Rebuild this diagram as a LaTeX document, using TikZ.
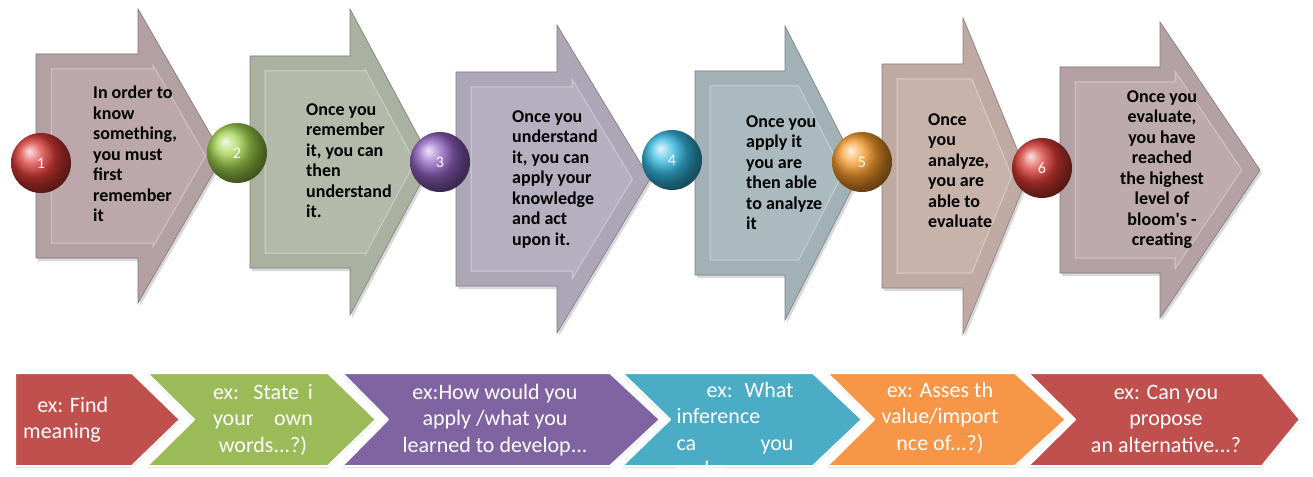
\documentclass[tikz,border=0pt]{standalone}
\usepackage{fontspec}
\newfontfamily\calibri{Carlito}
\usetikzlibrary{shadows}
\definecolor{stageA}{HTML}{BCA8AB}
\definecolor{stageB}{HTML}{B3BAA9}
\definecolor{stageC}{HTML}{B6AFBF}
\definecolor{stageD}{HTML}{AABABF}
\definecolor{stageE}{HTML}{C8B3AB}
\definecolor{stageF}{HTML}{BDAAAE}
\definecolor{exred}{HTML}{C0504D}
\definecolor{exgreen}{HTML}{9BBB59}
\definecolor{expurple}{HTML}{8064A2}
\definecolor{exblue}{HTML}{4BACC6}
\definecolor{exorange}{HTML}{F79646}
\definecolor{ballred}{HTML}{D83A34}
\definecolor{ballgreen}{HTML}{9ED04A}
\definecolor{ballpurple}{HTML}{9060C0}
\definecolor{ballblue}{HTML}{34B8E0}
\definecolor{ballorange}{HTML}{F79A2A}
\newcommand{\stageoutline}[6]{(#1,#2-#3) -- (#4,#2-#3) -- (#4,#2-#5) -- (#6,#2) -- (#4,#2+#5) -- (#4,#2+#3) -- (#1,#2+#3) -- cycle}
% left, centre, half body, head start, half head, tip, colour
\newcommand{\stagearrow}[7]{%
  \path[fill=#7, drop shadow={opacity=0.3, shadow xshift=2pt, shadow yshift=-3pt}] \stageoutline{#1}{#2}{#3}{#4}{#5}{#6};
  \begin{scope}
    \clip \stageoutline{#1}{#2}{#3}{#4}{#5}{#6};
    \draw[line width=31pt, white, opacity=0.35] \stageoutline{#1}{#2}{#3}{#4}{#5}{#6};
    \draw[line width=29pt, #7!95!black] \stageoutline{#1}{#2}{#3}{#4}{#5}{#6};
  \end{scope}
  \draw[#7!70!black, line width=0.6pt] \stageoutline{#1}{#2}{#3}{#4}{#5}{#6};
}
\tikzset{
  stagetext/.style={font=\calibri\bfseries\fontsize{18}{20.5}\selectfont, align=left, anchor=north west, inner sep=0pt},
  extext/.style={font=\calibri\fontsize{22}{26.5}\selectfont, align=center, anchor=north, inner sep=0pt, text=white},
  bullet/.style={circle, shading=ball, minimum size=60pt, inner sep=0pt, text=white, font=\calibri\fontsize{16}{16}\selectfont},
  exband/.style={draw=white, line width=2pt, line join=round, drop shadow={opacity=0.25, shadow xshift=0pt, shadow yshift=-2pt}},
}

\begin{document}
\begin{tikzpicture}[x=1pt, y=-1pt]
  \useasboundingbox (0,0) rectangle (1313,476);
  % stages
  \stagearrow{36}{156}{102}{138}{147}{223}{stageA}
  \stagearrow{250}{162}{106}{350}{153}{432}{stageB}
  \stagearrow{456}{179}{107}{557}{154}{650}{stageC}
  \stagearrow{695}{173}{102}{785}{147}{860}{stageD}
  \stagearrow{882}{176}{112}{963}{158}{1028}{stageE}
  \stagearrow{1060}{170}{103}{1160}{148}{1260}{stageF}

  \node[stagetext] (s1) at (93,86) {In order to\\know\\something,\\you must\\first\\remember\\it};
  \node[stagetext] (s2) at (306,103) {Once you\\remember\\it, you can\\then\\understand\\it.};
  \node[stagetext] (s3) at (512,110) {Once you\\understand\\it, you can\\apply your\\knowledge\\and act\\upon it.};
  \node[stagetext] (s4) at (746,115) {Once you\\apply it\\you are\\then able\\to analyze\\it};
  \node[stagetext] (s5) at (928,113) {Once\\you\\analyze,\\you are\\able to\\evaluate};
  \node[stagetext, align=center, anchor=north] (s6) at (1162,90) {Once you\\evaluate,\\you have\\reached\\the highest\\level of\\bloom's -\\creating};

  \node[bullet, ball color=ballred] (c1) at (41,163) {1};
  \node[bullet, ball color=ballgreen] (c2) at (237,153) {2};
  \node[bullet, ball color=ballpurple] (c3) at (440,162) {3};
  \node[bullet, ball color=ballblue] (c4) at (672,160) {4};
  \node[bullet, ball color=ballorange] (c5) at (862,162) {5};
  \node[bullet, ball color=ballred] (c6) at (1042,168) {6};

  % examples
  \fill[exband, fill=exred] (15,373) -- (132,373) -- (180,419.5) -- (132,466) -- (15,466) -- cycle;
  \fill[exband, fill=exgreen] (147,373) -- (328,373) -- (376,419.5) -- (328,466) -- (147,466) -- (194,419.5) -- cycle;
  \fill[exband, fill=expurple] (342,373) -- (610,373) -- (660,419.5) -- (610,466) -- (342,466) -- (388,419.5) -- cycle;
  \fill[exband, fill=exblue] (622,373) -- (813,373) -- (862,419.5) -- (813,466) -- (622,466) -- (670,419.5) -- cycle;
  \fill[exband, fill=exorange] (827,373) -- (1015,373) -- (1066,419.5) -- (1015,466) -- (827,466) -- (874,419.5) -- cycle;
  \fill[exband, fill=exred] (1028,373) -- (1262,373) -- (1300,419.5) -- (1262,466) -- (1028,466) -- (1075,419.5) -- cycle;

  \node[extext, align=left, anchor=north west] (e1) at (23,397) {\makebox[85pt][r]{ex: Find}\\meaning};
  \node[extext] (e2) at (263,384) {\makebox[100pt][s]{ex: State i}\\\makebox[100pt][s]{your own}\\words...?)};
  \node[extext] (e3) at (495,384) {ex:How would you\\apply /what you\\learned to develop...};
  \node[extext] (e4) at (735,382) {\makebox[117pt][r]{ex:\hspace{12pt}What}\\\makebox[117pt][l]{inference}\\\makebox[117pt][s]{ca you}\\\makebox[117pt][l]{make...}};
  \node[extext] (e5) at (940,382) {ex: Asses th\\value/import\\nce of...?)};
  \node[extext] (e6) at (1166,385) {ex: Can you\\propose\\an alternative...?};
\end{tikzpicture}
\end{document}
